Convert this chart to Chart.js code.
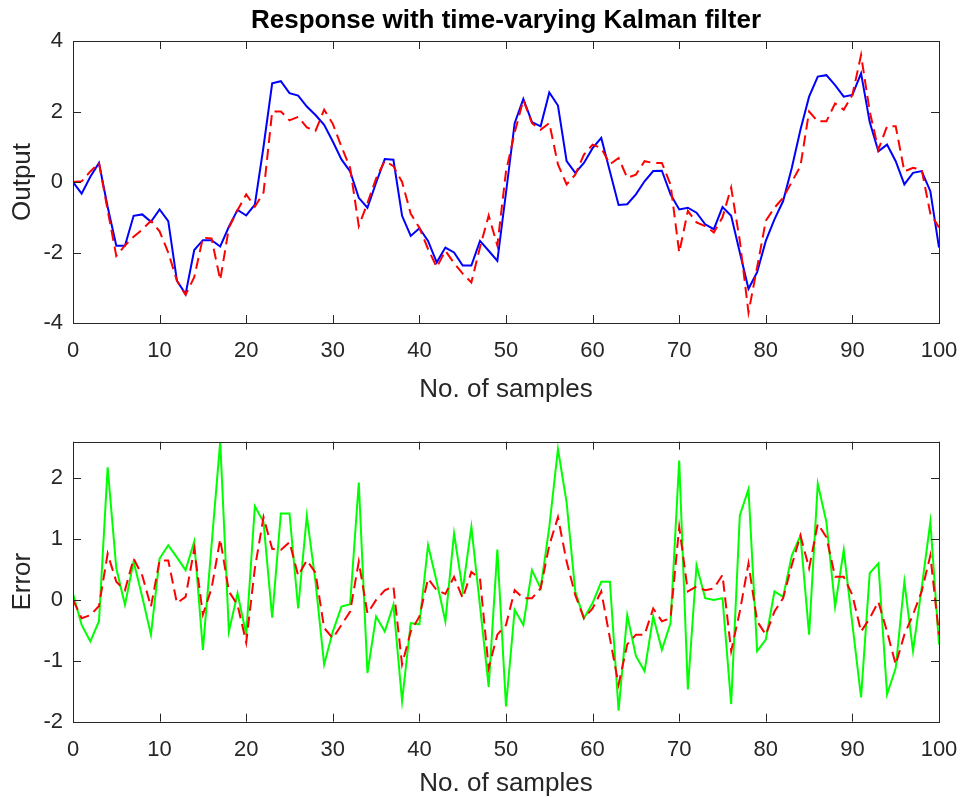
<!DOCTYPE html>
<html>
<head>
<meta charset="utf-8">
<title>Response with time-varying Kalman filter</title>
<script src="https://cdn.jsdelivr.net/npm/chart.js@4.4.1/dist/chart.umd.min.js"></script>
<style>
  html, body { margin: 0; padding: 0; background: #fff; overflow: hidden; }
  #wrap { position: relative; width: 964px; height: 797px; }
  #top-box { position: absolute; left: 0; top: 0; width: 964px; height: 410px; }
  #bottom-box { position: absolute; left: 0; top: 400px; width: 964px; height: 397px; }
</style>
</head>
<body>
<div id="wrap">
  <div id="top-box"><canvas id="output-chart" width="964" height="410"></canvas></div>
  <div id="bottom-box"><canvas id="error-chart" width="964" height="397"></canvas></div>
</div>
<script>
// sample index (x axis)
const samples = [0,1,2,3,4,5,6,7,8,9,10,11,12,13,14,15,16,17,18,19,20,21,22,23,24,25,26,27,28,29,30,
  31,32,33,34,35,36,37,38,39,40,41,42,43,44,45,46,47,48,49,50,51,52,53,54,55,56,57,58,59,60,
  61,62,63,64,65,66,67,68,69,70,71,72,73,74,75,76,77,78,79,80,81,82,83,84,85,86,87,88,89,90,
  91,92,93,94,95,96,97,98,99,100];

// top plot: true response (blue) and filtered response (red dashed)
const trueOutput = [0.0,-0.33,0.15,0.54,-0.7,-1.81,-1.81,-0.96,-0.92,-1.13,-0.78,-1.11,-2.8,-3.18,-1.93,-1.65,-1.65,-1.83,-1.27,-0.79,
  -0.95,-0.64,1.0,2.8,2.86,2.52,2.45,2.14,1.9,1.62,1.15,0.64,0.3,-0.45,-0.73,-0.02,0.65,0.63,-0.96,-1.53,
  -1.31,-1.67,-2.28,-1.86,-2.0,-2.37,-2.37,-1.67,-1.95,-2.24,-0.3,1.67,2.36,1.7,1.58,2.54,2.17,0.59,0.26,0.54,
  0.96,1.25,0.3,-0.65,-0.63,-0.35,0.02,0.31,0.32,-0.35,-0.78,-0.73,-0.87,-1.2,-1.34,-0.71,-0.96,-2.0,-3.03,-2.56,
  -1.67,-1.06,-0.54,0.4,1.48,2.42,2.99,3.03,2.75,2.42,2.47,3.08,1.7,0.87,1.06,0.59,-0.07,0.26,0.31,-0.26,-1.86];
const filteredOutput = [0.0,0.02,0.3,0.54,-0.8,-2.1,-1.8,-1.55,-1.35,-1.1,-1.4,-2.0,-2.8,-3.2,-2.7,-1.58,-1.6,-2.78,-1.3,-0.8,
  -0.35,-0.7,-0.3,2.0,2.0,1.75,1.85,1.55,1.45,2.05,1.65,1.0,0.4,-1.25,-0.6,0.1,0.6,0.45,0.0,-0.9,
  -1.3,-1.9,-2.42,-1.95,-2.3,-2.6,-2.85,-1.85,-0.95,-1.8,0.3,1.4,2.33,1.67,1.48,1.67,0.5,-0.07,0.21,0.78,
  1.06,0.96,0.5,0.68,0.12,0.21,0.59,0.54,0.54,-0.07,-2.0,-0.82,-1.15,-1.25,-1.43,-1.0,-0.16,-1.67,-3.7,-2.42,
  -1.1,-0.73,-0.45,0.0,0.45,2.0,1.72,1.72,2.23,2.05,2.47,3.6,2.0,0.92,1.58,1.58,0.3,0.4,0.35,-0.9,-1.29];

// bottom plot: measurement error (green) and estimation error (red dashed)
const measurementError = [0.1,-0.41,-0.68,-0.35,2.18,0.52,-0.08,0.63,0.05,-0.57,0.68,0.9,0.7,0.49,0.96,-0.82,0.9,2.6,-0.52,0.11,
  -0.57,1.54,1.28,-0.29,1.42,1.42,-0.14,1.38,0.3,-1.06,-0.52,-0.11,-0.07,1.93,-1.2,-0.27,-0.52,-0.08,-1.66,-0.38,
  -0.4,0.9,0.3,-0.35,1.09,0.16,1.2,-0.1,-1.43,0.83,-1.75,-0.16,-0.41,0.49,0.19,1.2,2.48,1.6,0.14,-0.3,
  -0.05,0.3,0.3,-1.82,-0.25,-0.92,-1.17,-0.27,-0.82,-0.38,2.29,-1.47,0.57,0.03,0.0,0.03,-1.71,1.39,1.82,-0.84,
  -0.65,0.14,0.05,0.73,1.06,-0.57,1.91,1.28,-0.11,0.82,-0.4,-1.6,0.44,0.6,-1.55,-1.12,0.3,-0.84,0.2,1.28,-0.73];
const estimationError = [0.0,-0.3,-0.25,-0.1,0.76,0.3,0.16,0.68,0.4,-0.11,0.65,0.65,-0.05,0.05,0.84,-0.24,0.19,1.0,0.14,-0.08,
  -0.7,0.52,1.36,0.84,0.82,0.95,0.4,0.65,0.45,-0.46,-0.63,-0.41,-0.19,0.63,-0.22,0.0,0.16,0.22,-1.06,-0.52,
  -0.27,0.35,0.16,0.1,0.38,0.03,0.46,0.35,-1.12,-0.57,-0.41,0.16,0.03,0.03,0.19,0.9,1.36,0.63,0.08,-0.3,
  -0.14,0.14,-0.63,-1.39,-0.73,-0.57,-0.57,-0.14,-0.35,-0.3,1.2,0.14,0.22,0.16,0.19,0.41,-0.84,-0.19,0.6,-0.35,
  -0.57,-0.19,0.03,0.57,1.06,0.52,1.25,1.03,0.38,0.38,0.08,-0.52,-0.3,-0.03,-0.52,-1.06,-0.57,-0.24,0.14,0.73,-0.57];

// tick labels
const sampleTicks = [0, 10, 20, 30, 40, 50, 60, 70, 80, 90, 100];
const outputTicks = [-4, -2, 0, 2, 4];
const errorTicks = [-2, -1, 0, 1, 2];

const FONT = '"Liberation Sans", Arial, Helvetica, sans-serif';
const AXIS_GRAY = '#262626';
const TICK_LEN = 8;

const toPoints = (ys) => samples.map((s, i) => ({ x: s, y: ys[i] }));

// MATLAB style box with inward tick marks on all four sides
const boxTicks = {
    id: 'boxTicks',
    afterDraw(chart) {
        const { ctx, chartArea: a, scales: { x, y } } = chart;
        ctx.save();
        ctx.strokeStyle = AXIS_GRAY;
        ctx.lineWidth = 1;
        ctx.beginPath();
        x.ticks.forEach(t => {
            const px = Math.round(x.getPixelForValue(t.value)) + 0.5;
            ctx.moveTo(px, a.bottom); ctx.lineTo(px, a.bottom - TICK_LEN);
            ctx.moveTo(px, a.top); ctx.lineTo(px, a.top + TICK_LEN);
        });
        y.ticks.forEach(t => {
            const py = Math.round(y.getPixelForValue(t.value)) + 0.5;
            ctx.moveTo(a.left, py); ctx.lineTo(a.left + TICK_LEN, py);
            ctx.moveTo(a.right, py); ctx.lineTo(a.right - TICK_LEN, py);
        });
        ctx.stroke();
        ctx.strokeRect(Math.round(a.left) + 0.5, Math.round(a.top) + 0.5,
            Math.round(a.right - a.left), Math.round(a.bottom - a.top));
        ctx.restore();
    }
};

function makeOptions(cfg) {
    return {
        responsive: false,
        animation: false,
        devicePixelRatio: 1,
        layout: { padding: { top: cfg.padTop, right: 25, bottom: 0, left: 0 } },
        plugins: {
            legend: { display: false },
            tooltip: { enabled: false },
            title: cfg.title ? {
                display: true,
                text: cfg.title,
                fullSize: false,
                color: '#000',
                font: { family: FONT, size: 26, weight: 'bold', lineHeight: 1.2 },
                padding: { top: 5, bottom: 4.8 }
            } : { display: false }
        },
        elements: { point: { radius: 0 }, line: { tension: 0 } },
        scales: {
            x: {
                type: 'linear',
                min: 0,
                max: 100,
                grid: { display: false, drawTicks: false },
                border: { display: false },
                afterBuildTicks: s => { s.ticks = sampleTicks.map(v => ({ value: v })); },
                afterFit: s => {
                    s.height = cfg.xAxisHeight;
                    // keep the plot box where the figure has it
                    s.paddingLeft = 0;
                    s.paddingRight = 0;
                },
                ticks: { color: AXIS_GRAY, font: { family: FONT, size: 22 }, padding: 15, maxRotation: 0, autoSkip: false },
                title: {
                    display: true,
                    text: 'No. of samples',
                    color: AXIS_GRAY,
                    font: { family: FONT, size: 26, lineHeight: 1 },
                    padding: { top: 0, bottom: cfg.xTitlePad }
                }
            },
            y: {
                type: 'linear',
                min: cfg.yMin,
                max: cfg.yMax,
                grid: { display: false, drawTicks: false },
                border: { display: false },
                afterBuildTicks: s => { s.ticks = cfg.yTicks.map(v => ({ value: v })); },
                afterFit: s => {
                    s.width = 73;
                    s.paddingTop = 0;
                    s.paddingBottom = 0;
                },
                ticks: { color: AXIS_GRAY, font: { family: FONT, size: 22 }, padding: 10, autoSkip: false },
                title: {
                    display: true,
                    text: cfg.yLabel,
                    color: AXIS_GRAY,
                    font: { family: FONT, size: 26, lineHeight: 1 },
                    padding: { top: 10, bottom: 0 }
                }
            }
        }
    };
}

// red dashed first so it is drawn over the solid line
new Chart(document.getElementById('output-chart'), {
    type: 'line',
    data: {
        datasets: [{
            label: 'Filtered response',
            data: toPoints(filteredOutput),
            borderColor: '#ff0000',
            borderWidth: 2,
            borderDash: [11, 6],
            fill: false
        }, {
            label: 'True response',
            data: toPoints(trueOutput),
            borderColor: '#0000ff',
            borderWidth: 2,
            fill: false
        }]
    },
    options: makeOptions({
        title: 'Response with time-varying Kalman filter',
        padTop: 0,
        xAxisHeight: 87,
        xTitlePad: 7,
        yMin: -4, yMax: 4,
        yTicks: outputTicks,
        yLabel: 'Output'
    }),
    plugins: [boxTicks]
});

new Chart(document.getElementById('error-chart'), {
    type: 'line',
    data: {
        datasets: [{
            label: 'Estimation error',
            data: toPoints(estimationError),
            borderColor: '#ff0000',
            borderWidth: 2,
            borderDash: [11, 6],
            fill: false
        }, {
            label: 'Measurement error',
            data: toPoints(measurementError),
            borderColor: '#00ff00',
            borderWidth: 2,
            fill: false
        }]
    },
    options: makeOptions({
        title: null,
        padTop: 41.7,
        xAxisHeight: 75.3,
        xTitlePad: 0,
        yMin: -2, yMax: 2.6,
        yTicks: errorTicks,
        yLabel: 'Error'
    }),
    plugins: [boxTicks]
});
</script>
</body>
</html>
